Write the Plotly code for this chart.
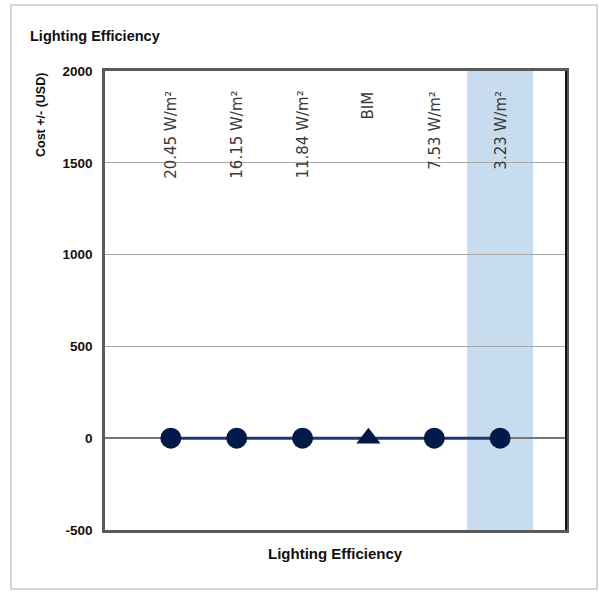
import plotly.graph_objects as go

# Lighting efficiency options and the cost difference of each (USD)
categories = ["20.45 W/m²", "16.15 W/m²", "11.84 W/m²", "BIM", "7.53 W/m²", "3.23 W/m²"]
cost_delta = [0, 0, 0, 0, 0, 0]
marker_shapes = ["circle", "circle", "circle", "triangle-up", "circle", "circle"]
highlighted = "3.23 W/m²"

y_ticks = [-500, 0, 500, 1000, 1500, 2000]
y_tick_text = ["-500", "0", "500", "1000", "1500", "2000"]

SANS = "Liberation Sans, Arial, sans-serif"
NAVY = "#021a4a"

W, H = 599, 592
ML, MR, MT, MB = 105, 33, 71, 62
PW, PH = W - ML - MR, H - MT - MB


def px_to_paper_x(px):
    return (px - ML) / PW


def px_to_paper_y(py):
    return (H - MB - py) / PH


xs = list(range(len(categories)))
hi = categories.index(highlighted)

fig = go.Figure()
fig.add_trace(go.Scatter(
    x=xs, y=cost_delta, mode="lines+markers",
    line=dict(color="#1d3a70", width=3),
    marker=dict(symbol=marker_shapes, size=21, color=NAVY, line=dict(width=0)),
    showlegend=False, hoverinfo="skip",
))

shapes = [
    # highlighted option band
    dict(type="rect", xref="x", yref="paper", x0=hi - 0.5, x1=hi + 0.5, y0=0, y1=1,
         fillcolor="#c7dcee", line=dict(width=0), layer="below"),
    # right frame edge
    dict(type="line", xref="paper", yref="paper", x0=1, x1=1, y0=0, y1=1,
         line=dict(color="#111111", width=2)),
    # outer card border
    dict(type="rect", xref="paper", yref="paper",
         x0=px_to_paper_x(11), x1=px_to_paper_x(597),
         y0=px_to_paper_y(589), y1=px_to_paper_y(5),
         line=dict(color="#c8c8c8", width=1.5), fillcolor="rgba(0,0,0,0)", layer="below"),
]

annotations = [
    dict(text=c, x=i, y=px_to_paper_y(89), xref="x", yref="paper", textangle=-90,
         xanchor="center", yanchor="top", showarrow=False,
         font=dict(family="DejaVu Sans, sans-serif", size=15, color="#3a3a3a"))
    for i, c in enumerate(categories)
]
annotations += [
    dict(text="<b>Lighting Efficiency</b>", x=px_to_paper_x(28), y=px_to_paper_y(36),
         xref="paper", yref="paper", xanchor="left", yanchor="middle", showarrow=False,
         font=dict(family=SANS, size=14.5, color="#111111")),
    dict(text="<b>Lighting Efficiency</b>", x=0.5, y=px_to_paper_y(553),
         xref="paper", yref="paper", xanchor="center", yanchor="middle", showarrow=False,
         font=dict(family=SANS, size=15, color="#111111")),
    dict(text="<b>Cost +/- (USD)</b>", x=px_to_paper_x(41), y=px_to_paper_y(115),
         xref="paper", yref="paper", xanchor="center", yanchor="middle", textangle=-90,
         showarrow=False, font=dict(family=SANS, size=12.5, color="#111111")),
]

fig.update_layout(
    width=W, height=H,
    margin=dict(l=ML, r=MR, t=MT, b=MB),
    paper_bgcolor="white", plot_bgcolor="white",
    shapes=shapes, annotations=annotations,
    xaxis=dict(range=[-1, len(categories)], showticklabels=False, ticks="",
               showgrid=False, zeroline=False, showline=True, mirror=True,
               linecolor="#5a5a5a", linewidth=2.5, fixedrange=True),
    yaxis=dict(range=[-500, 2000], tickvals=y_ticks, ticktext=y_tick_text, ticks="",
               showgrid=True, gridcolor="#a8a8a8", gridwidth=1.2,
               zeroline=True, zerolinecolor="#777777", zerolinewidth=1.5,
               showline=True, mirror=True, linecolor="#5a5a5a", linewidth=2.5,
               tickfont=dict(family=SANS, size=13.5, color="#111111", weight="bold"),
               ticklabelstandoff=7, fixedrange=True),
)

fig.write_html("out.html")
